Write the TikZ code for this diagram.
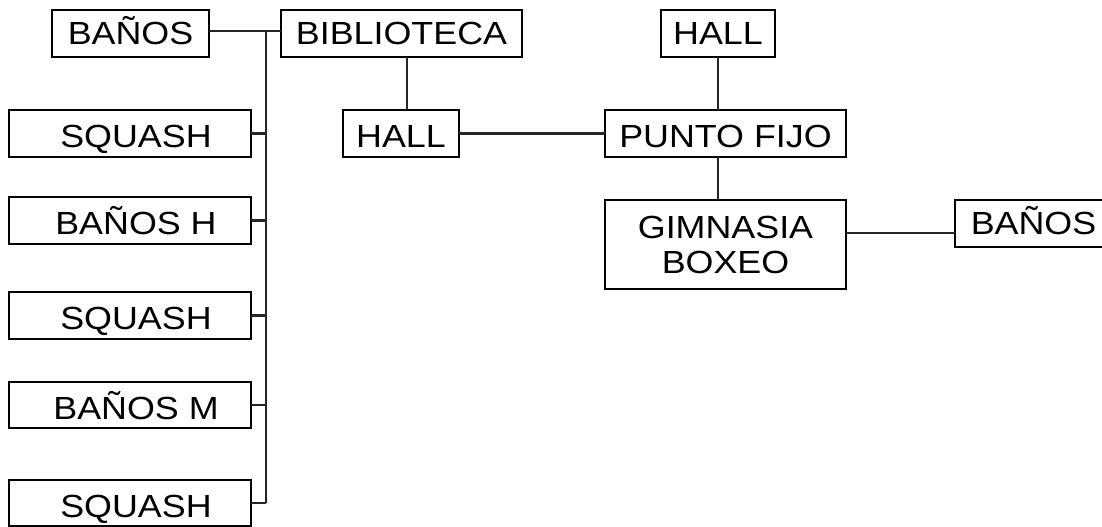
\documentclass[tikz,border=0pt]{standalone}
\usepackage{fontspec}
\setmainfont{Liberation Sans}[FakeStretch=1.12]
\begin{document}
\begin{tikzpicture}[x=1bp,y=-1bp,
  box/.style={draw=black,line width=2.6bp,rectangle,inner sep=0pt,outer sep=0pt,
    minimum height=47bp,font=\fontsize{32bp}{35bp}\selectfont,align=center,
    text height=23bp,text depth=0pt},
  lowtext/.style={text height=29bp},
  conn/.style={draw=black!85,line width=2.2bp}]
\useasboundingbox (0,0) rectangle (1102,527);
% top row
\node[box,minimum width=157bp] (banosL) at (130.5,33.5) {BAÑOS};
\node[box,minimum width=241bp] (biblio) at (401.5,33.5) {BIBLIOTECA};
\node[box,lowtext,minimum width=116bp] (hallL) at (401,133.5) {HALL};
\node[box,minimum width=114bp] (hallR) at (718,33.5) {HALL};
\node[box,lowtext,minimum width=241bp] (pf) at (725.5,133.5) {PUNTO FIJO};
\node[box,minimum width=241bp,minimum height=89bp,text height=58bp] (gim) at (725.5,244.5) {GIMNASIA\\BOXEO};
\node[box,minimum width=157bp] (banosR) at (1033.5,223.5) {BAÑOS};
% left column
\node[box,lowtext,minimum width=242bp] (sq1) at (130,133.5) {\hspace{12bp}SQUASH};
\node[box,lowtext,minimum width=242bp] (banosH) at (130,220.5) {\hspace{12bp}BAÑOS H};
\node[box,lowtext,minimum width=242bp] (sq2) at (130,315.5) {\hspace{12bp}SQUASH};
\node[box,lowtext,minimum width=242bp,minimum height=46bp] (banosM) at (130,405) {\hspace{12bp}BAÑOS M};
\node[box,lowtext,minimum width=242bp,minimum height=46bp] (sq3) at (130,503) {\hspace{12bp}SQUASH};
% junctions
\coordinate (ttop) at (266,31);
\coordinate (tbot) at (266,503);
\coordinate (bx) at (407,0);
\coordinate (hx) at (718,0);
\coordinate (gy) at (0,233);
% connectors
\draw[conn] (banosL.east |- ttop) -- (biblio.west |- ttop);
\draw[conn] (ttop) -- (tbot);
\draw[conn] (sq1.east) -- (sq1.east -| ttop);
\draw[conn] (banosH.east) -- (banosH.east -| ttop);
\draw[conn] (sq2.east) -- (sq2.east -| ttop);
\draw[conn] (banosM.east) -- (banosM.east -| ttop);
\draw[conn] (sq3.east) -- (tbot);
\draw[conn] (biblio.south -| bx) -- (hallL.north -| bx);
\draw[conn] (hallL.east) -- (pf.west);
\draw[conn] (hallR.south -| hx) -- (pf.north -| hx);
\draw[conn] (pf.south -| hx) -- (gim.north -| hx);
\draw[conn] (gim.east |- gy) -- (banosR.west |- gy);
\end{tikzpicture}
\end{document}
